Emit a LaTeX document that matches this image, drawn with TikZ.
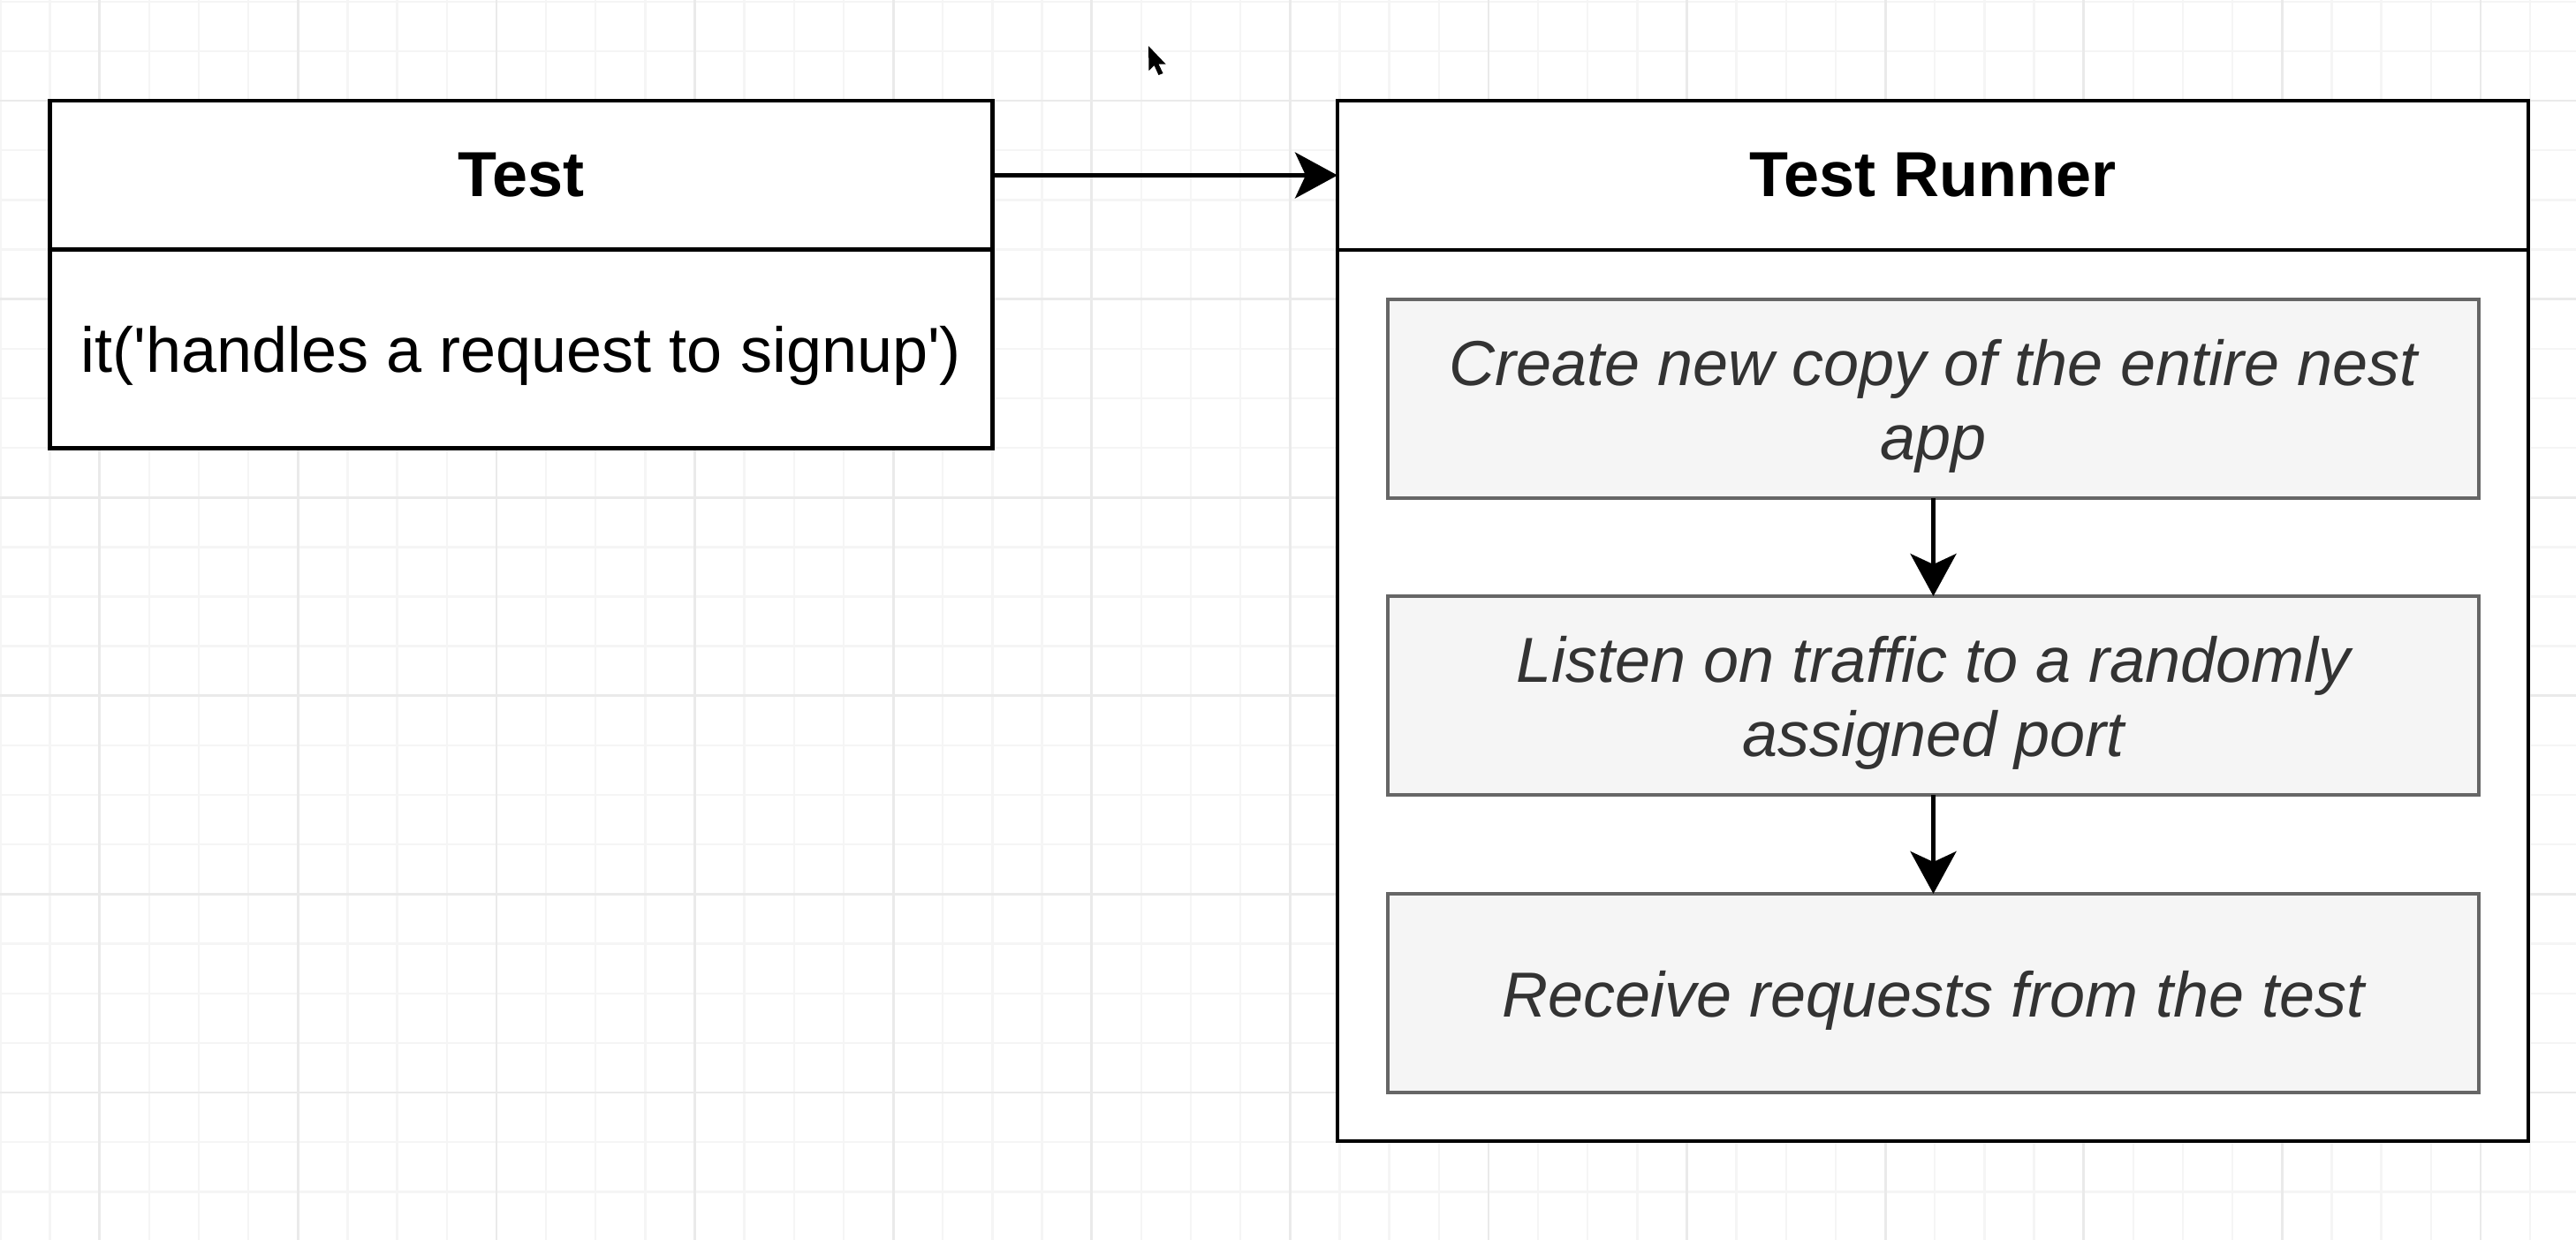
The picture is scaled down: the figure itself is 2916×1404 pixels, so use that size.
\documentclass[tikz,border=0pt]{standalone}
\usepackage{fontspec}
\setmainfont{Liberation Sans}[Ligatures=TeXOff]
\usetikzlibrary{arrows.meta}

\definecolor{gridminor}{HTML}{F5F5F5}
\definecolor{gridmajor}{HTML}{EAEAEA}
\definecolor{stepfill}{HTML}{F5F5F5}
\definecolor{stepline}{HTML}{666666}
\definecolor{steptext}{HTML}{333333}

\tikzset{
  px/.style={x=0.25pt, y=-0.25pt},
  panel/.style={draw=black, line width=1.2pt, fill=white, inner sep=0pt, outer sep=0pt},
  title/.style={panel, font=\fontsize{18}{21}\selectfont\bfseries},
  plainlabel/.style={inner sep=0pt, font=\fontsize{18}{21}\selectfont},
  stepbox/.style={draw=stepline, line width=1.2pt, fill=stepfill, inner sep=0pt, outer sep=0pt,
    minimum width=308.75pt, minimum height=56.25pt},
  steplabel/.style={inner sep=0pt, align=center, text=steptext, yshift=-2pt,
    font=\fontsize{18}{21}\selectfont\itshape},
  flow/.style={draw=black, line width=1.1pt, -{Stealth[length=12pt, width=13pt, inset=3pt]}}
}

\begin{document}
\begin{tikzpicture}[px]
  % page and background grid
  \useasboundingbox (0,0) rectangle (2916,1404);
  \fill[white] (0,0) rectangle (2916,1404);
  \foreach \k in {0,...,51} {
    \pgfmathsetmacro{\gx}{0.4+56.15*\k}
    \draw[gridminor, line width=0.6pt] (\gx,0) -- (\gx,1404);
  }
  \foreach \k in {0,...,24} {
    \pgfmathsetmacro{\gy}{1.7+56.15*\k}
    \draw[gridminor, line width=0.6pt] (0,\gy) -- (2916,\gy);
  }
  \foreach \k in {2,6,...,50} {
    \pgfmathsetmacro{\gx}{0.4+56.15*\k}
    \draw[gridmajor, line width=0.7pt] (\gx,0) -- (\gx,1404);
  }
  \foreach \k in {2,6,...,22} {
    \pgfmathsetmacro{\gy}{1.7+56.15*\k}
    \draw[gridmajor, line width=0.7pt] (0,\gy) -- (2916,\gy);
  }

  % Test
  \node[title, minimum width=266.6pt, minimum height=42.25pt] (testhead) at (590,198.5) {Test};
  \node[panel, minimum width=266.6pt, minimum height=56.1pt] (testbody) at (590,395) {};
  \node[plainlabel, yshift=-2pt] (testcall) at (testbody.center) {it('handles a request to signup')};

  % Test Runner
  \node[panel, minimum width=337pt, minimum height=252.25pt] (runbody) at (2188,787.5) {};
  \node[title, minimum width=337pt, minimum height=42.25pt] (runhead) at (2188,198.5) {Test Runner};

  % steps inside the runner
  \node[stepbox] (create) at (2188.5,451.5) {};
  \node[stepbox] (listen) at (2188.5,787.5) {};
  \node[stepbox] (receive) at (2188.5,1124.5) {};
  \node[steplabel] (createtext) at (create.center) {Create new copy of the entire nest\\app};
  \node[steplabel] (listentext) at (listen.center) {Listen on traffic to a randomly\\assigned port};
  \node[steplabel] (receivetext) at (receive.center) {Receive requests from the test};

  % connectors
  \draw[flow] (testhead.east) -- (runhead.west);
  \draw[flow] (create.south) -- (listen.north);
  \draw[flow] (listen.south) -- (receive.north);

  % mouse pointer
  \fill[black] (1300,52) -- (1300.5,80) -- (1306.5,74) -- (1311.5,85) -- (1316.5,83)
    -- (1311.5,72.5) -- (1319.5,72.5) -- cycle;
\end{tikzpicture}
\end{document}
